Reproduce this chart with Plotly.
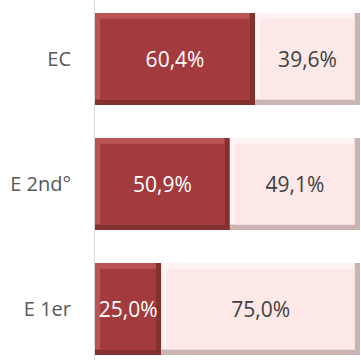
import plotly.graph_objects as go

categories = ["E 1er", "E 2nd°", "EC"]
dark_values = [25.0, 50.9, 60.4]
light_values = [75.0, 49.1, 39.6]

labels_dark = [f"{v:.1f}%".replace(".", ",") for v in dark_values]
labels_light = [f"{v:.1f}%".replace(".", ",") for v in light_values]

BAR_W = 0.736
IX = 2.0      # bevel thickness in x data units
IY = 0.045    # bevel thickness in category units

FONT = "Open Sans, Liberation Sans, sans-serif"

fig = go.Figure()


def bevel_bar(values, bases, under, hi, face, text, text_color):
    # full bar (shadow side: bottom/right)
    fig.add_trace(go.Bar(
        y=categories, x=values, base=bases, orientation="h",
        width=BAR_W, offset=-BAR_W / 2,
        marker=dict(color=under, line=dict(width=0)),
        hoverinfo="skip", showlegend=False,
    ))
    # highlight (top/left)
    fig.add_trace(go.Bar(
        y=categories, x=[v - IX for v in values], base=bases, orientation="h",
        width=BAR_W - IY, offset=-BAR_W / 2 + IY,
        marker=dict(color=hi, line=dict(width=0)),
        hoverinfo="skip", showlegend=False,
    ))
    # face
    fig.add_trace(go.Bar(
        y=categories, x=[v - 2 * IX for v in values], base=[b + IX for b in bases],
        orientation="h",
        width=BAR_W - 2 * IY, offset=-BAR_W / 2 + IY,
        marker=dict(color=face, line=dict(width=0)),
        text=text, textposition="inside", insidetextanchor="middle",
        textangle=0, constraintext="none",
        textfont=dict(family=FONT, size=21, color=text_color),
        hoverinfo="skip", showlegend=False,
    ))


bevel_bar(dark_values, [0] * len(dark_values), "#853030", "#B95454", "#A33A3D",
          labels_dark, "#FFFFFF")
bevel_bar(light_values, dark_values, "#C9B3B3", "#FFF3F3", "#FDE8E8",
          labels_light, "#404040")

fig.update_layout(
    width=361, height=360,
    margin=dict(l=95, r=1, t=0, b=0),
    paper_bgcolor="white", plot_bgcolor="white",
    barmode="overlay",
    xaxis=dict(range=[0, 100], visible=False, fixedrange=True),
    yaxis=dict(
        type="category", categoryorder="array", categoryarray=categories,
        range=[-0.408, 2.472],
        showline=True, linecolor="#D9D9D9", linewidth=1,
        showgrid=False, zeroline=False, ticks="", ticklen=0,
        ticklabelstandoff=19,
        tickfont=dict(family=FONT, size=20, color="#595959"),
    ),
)

fig.write_html("out.html")
